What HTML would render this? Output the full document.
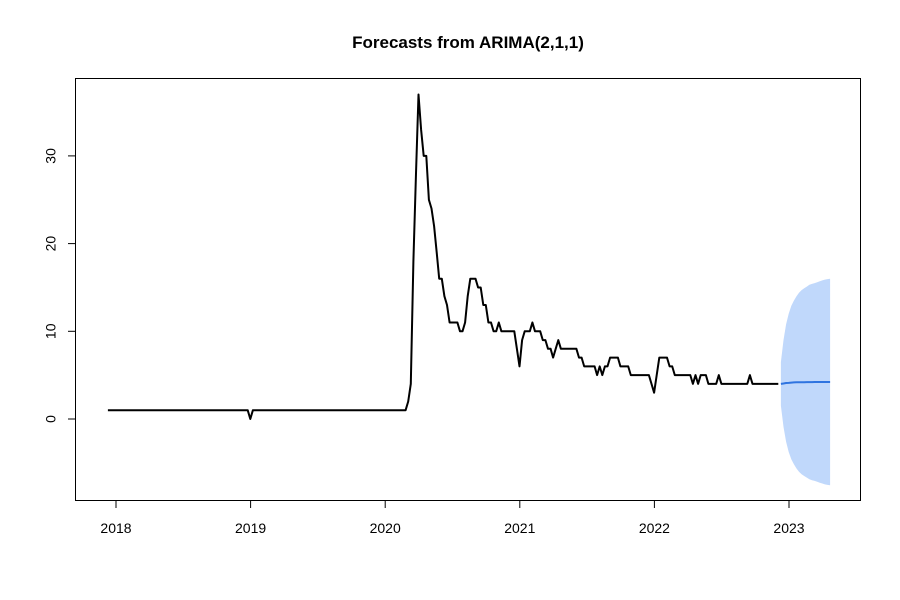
<!DOCTYPE html>
<html><head><meta charset="utf-8"><style>
body{margin:0;background:#fff}
svg{display:block;font-family:"Liberation Sans",Arial,sans-serif}
</style></head><body>
<svg id="chart" width="900" height="600" viewBox="0 0 900 600"></svg>
<script>
const observed = [
1,1,1,1,1,1,1,1,1,1,1,1,1,1,1,1,1,1,1,1,1,1,1,1,1,1,1,1,1,1,1,1,1,1,1,1,1,1,1,1,1,1,1,1,1,1,1,1,1,1,1,1,1,1,1,
0,
1,1,1,1,1,1,1,1,1,1,1,1,1,1,1,1,1,1,1,1,1,1,1,1,1,1,1,1,1,1,1,1,1,1,1,1,1,1,1,1,1,1,1,1,1,1,1,1,1,1,1,1,1,1,1,1,1,1,1,
1,2,4,18,28,37,
33,30,30,25,24,22,19,16,16,14,13,11,11,11,11,10,10,11,14,16,16,16,15,15,13,13,11,11,10,10,11,10,10,10,10,10,10,8,6,9,
10,10,10,11,10,10,10,9,9,8,8,7,8,9,8,8,8,8,8,8,8,7,7,6,6,6,6,6,5,6,5,6,6,7,7,7,7,6,6,6,6,5,5,5,5,5,5,5,5,4,3,5,7,7,7,7,6,6,5,5,5,5,5,5,5,4,5,4,5,5,5,4,4,4,4,5,
4,4,4,4,4,4,4,4,4,4,4,5,4,4,4,4,4,4,4,4,4,4,4
];
const startYear = 2017.94;
const fcMean = [4.0,4.05,4.1,4.12,4.15,4.17,4.18,4.19,4.2,4.2,4.21,4.21,4.21,4.22,4.22,4.22,4.22,4.22,4.22,4.22];
const fcUpper = [6.5,9,10.8,12,12.9,13.5,14,14.4,14.7,14.9,15.1,15.3,15.4,15.5,15.6,15.7,15.8,15.9,15.95,16];
const yTicks = [0,10,20,30];
const xTicks = [2018,2019,2020,2021,2022,2023];

const svg = document.getElementById('chart');
const NS = 'http://www.w3.org/2000/svg';
const xs = y => 116 + (y - 2018) * 134.6;
const ys = v => 419 - v * 8.77;
function mk(tag, attrs){const e=document.createElementNS(NS,tag);for(const k in attrs)e.setAttribute(k,attrs[k]);svg.appendChild(e);return e;}
const wk = 1/52;

// band
const fcStart = startYear + (observed.length) * wk;
let up = [], lo = [];
fcUpper.forEach((u,i)=>{const x=xs(fcStart+i*wk);up.push(x.toFixed(1)+','+ys(u).toFixed(1));lo.unshift(x.toFixed(1)+','+ys(2*fcMean[i]-u).toFixed(1));});
const band = mk('polygon',{points:up.concat(lo).join(' '),fill:'#c0d8fb',stroke:'none'});



// observed
const obsPts = observed.map((v,i)=>xs(startYear+i*wk).toFixed(1)+','+ys(v).toFixed(1)).join(' ');
const obs = mk('polyline',{points:obsPts,fill:'none',stroke:'#000','stroke-width':2,'stroke-linejoin':'round'});



// mean forecast
const fPts = fcMean.map((v,i)=>xs(fcStart+i*wk).toFixed(1)+','+ys(v).toFixed(1)).join(' ');
const fl = mk('polyline',{points:fPts,fill:'none',stroke:'#2f74e0','stroke-width':2});



// frame
const fr = mk('rect',{x:75.5,y:78.5,width:785,height:422,fill:'none',stroke:'#000','stroke-width':1});



// y axis
const ya = mk('line',{x1:75.5,x2:75.5,y1:ys(0),y2:ys(30),stroke:'#000'});


yTicks.forEach(t=>{
  const y=ys(t);
  const l=mk('line',{x1:68,x2:75.5,y1:y,y2:y,stroke:'#000'});
  
  
  const tx=mk('text',{x:52,y:y,'font-size':14,'text-anchor':'middle',transform:`rotate(-90 52 ${y})`,'dominant-baseline':'middle'});
  tx.textContent=t;
  
  
});

// x axis
const xa = mk('line',{x1:xs(2018),x2:xs(2023),y1:500.5,y2:500.5,stroke:'#000'});


xTicks.forEach(t=>{
  const x=xs(t);
  const l=mk('line',{x1:x,x2:x,y1:500.5,y2:508,stroke:'#000'});
  
  
  const tx=mk('text',{x:x,y:533,'font-size':14,'text-anchor':'middle'});
  tx.textContent=t;
  
  
});

const title = mk('text',{x:468,y:48,'font-size':17,'font-weight':'bold','text-anchor':'middle'});
title.textContent='Forecasts from ARIMA(2,1,1)';


</script>
</body></html>
